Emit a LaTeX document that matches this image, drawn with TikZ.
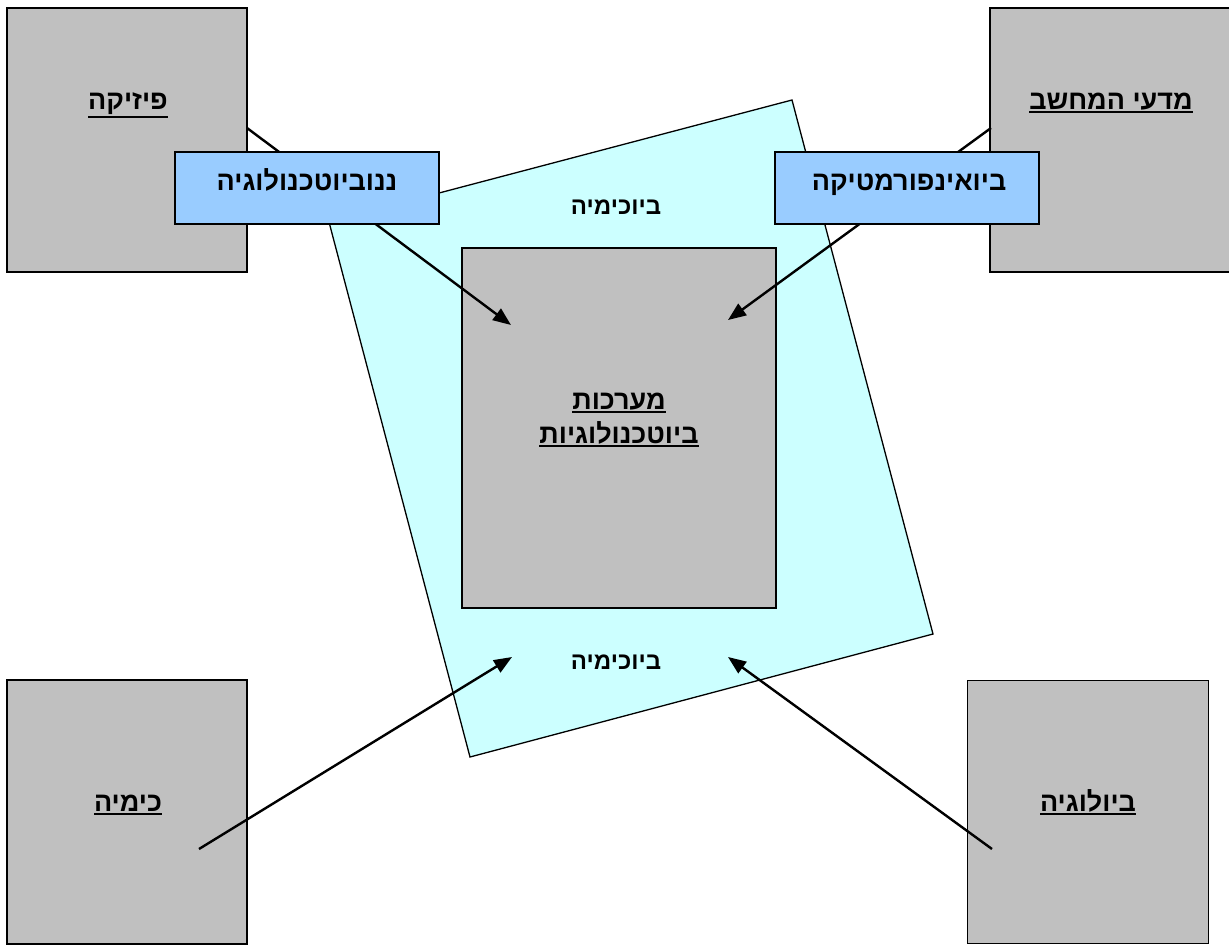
\documentclass[tikz,border=0pt]{standalone}
\usepackage{fontspec}
\usetikzlibrary{arrows.meta}
\TeXXeTstate=1
\newfontfamily\heb[Script=Hebrew]{Liberation Sans Bold}
\definecolor{boxgray}{HTML}{C0C0C0}
\definecolor{cyanfill}{HTML}{CCFFFF}
\definecolor{bluebox}{HTML}{99CCFF}
\newcommand\hul[1]{\setbox0\hbox{#1}\vtop{\copy0\kern1.5pt\hrule height 2.2pt width \wd0}}
\newcommand\rtl[1]{\beginR #1\endR}
\tikzset{
  graybox/.style={draw=black, line width=1.5pt, fill=boxgray, rectangle, inner sep=0pt},
  bluefill/.style={draw=black, line width=1.5pt, fill=bluebox, rectangle, inner sep=0pt},
  lbl/.style={font=\heb\fontsize{27}{32}\selectfont, inner sep=0pt, anchor=base},
  conn/.style={line width=2.3pt},
  arr/.style={line width=2.4pt, -{Triangle[length=18pt,width=14pt]}}
}
\begin{document}
\begin{tikzpicture}[x=1pt,y=-1pt]
\useasboundingbox (0,0) rectangle (1229,945);
% rotated cyan rectangle
\draw[fill=cyanfill, line width=1.3pt, line join=miter] (329,222) -- (792,100) -- (933,634) -- (470,757) -- cycle;
% centre box
\node[graybox, minimum width=314pt, minimum height=360pt] (core) at (619,428) {};
\node[lbl] (core1) at (619,409) {\hul{\rtl{מערכות}}};
\node[lbl] (core2) at (619,443) {\hul{\rtl{ביוטכנולוגיות}}};
\node[lbl, font=\heb\fontsize{24}{28}\selectfont] (bc1) at (616,214) {\rtl{ביוכימיה}};
\node[lbl, font=\heb\fontsize{24}{28}\selectfont] (bc2) at (616,669) {\rtl{ביוכימיה}};
% corner boxes
\node[graybox, minimum width=240pt, minimum height=264pt] (phys) at (127,140) {};
\node[lbl] (physl) at (128,109) {\hul{\rtl{פיזיקה}}};
\node[graybox, minimum width=242pt, minimum height=264pt] (cs) at (1111,140) {};
\node[lbl] (csl) at (1111,109) {\hul{\rtl{מדעי המחשב}}};
\node[graybox, minimum width=240pt, minimum height=264pt] (chem) at (127,812) {};
\node[lbl] (cheml) at (128,811) {\hul{\rtl{כימיה}}};
\node[graybox, minimum width=241pt, minimum height=263pt] (bio) at (1088,812) {};
\node[lbl] (biol) at (1088,811) {\hul{\rtl{ביולוגיה}}};
% connector end points
\coordinate (physout) at (247,128);
\coordinate (csout) at (991,128);
\coordinate (chemout) at (199,849);
\coordinate (bioout) at (992,849);
\coordinate (tipNW) at (511,325);
\coordinate (tipNE) at (728,320);
\coordinate (tipSW) at (512,657);
\coordinate (tipSE) at (728,657);
\draw[arr] (physout) -- (tipNW);
\draw[arr] (csout) -- (tipNE);
\draw[arr] (chemout) -- (tipSW);
\draw[arr] (bioout) -- (tipSE);
% blue boxes on top
\node[bluefill, minimum width=264pt, minimum height=72pt] (nano) at (307,188) {};
\node[lbl] (nanol) at (307,190) {\rtl{ננוביוטכנולוגיה}};
\node[bluefill, minimum width=264pt, minimum height=72pt] (binf) at (907,188) {};
\node[lbl] (binfl) at (909,190) {\rtl{ביואינפורמטיקה}};
\end{tikzpicture}
\end{document}
